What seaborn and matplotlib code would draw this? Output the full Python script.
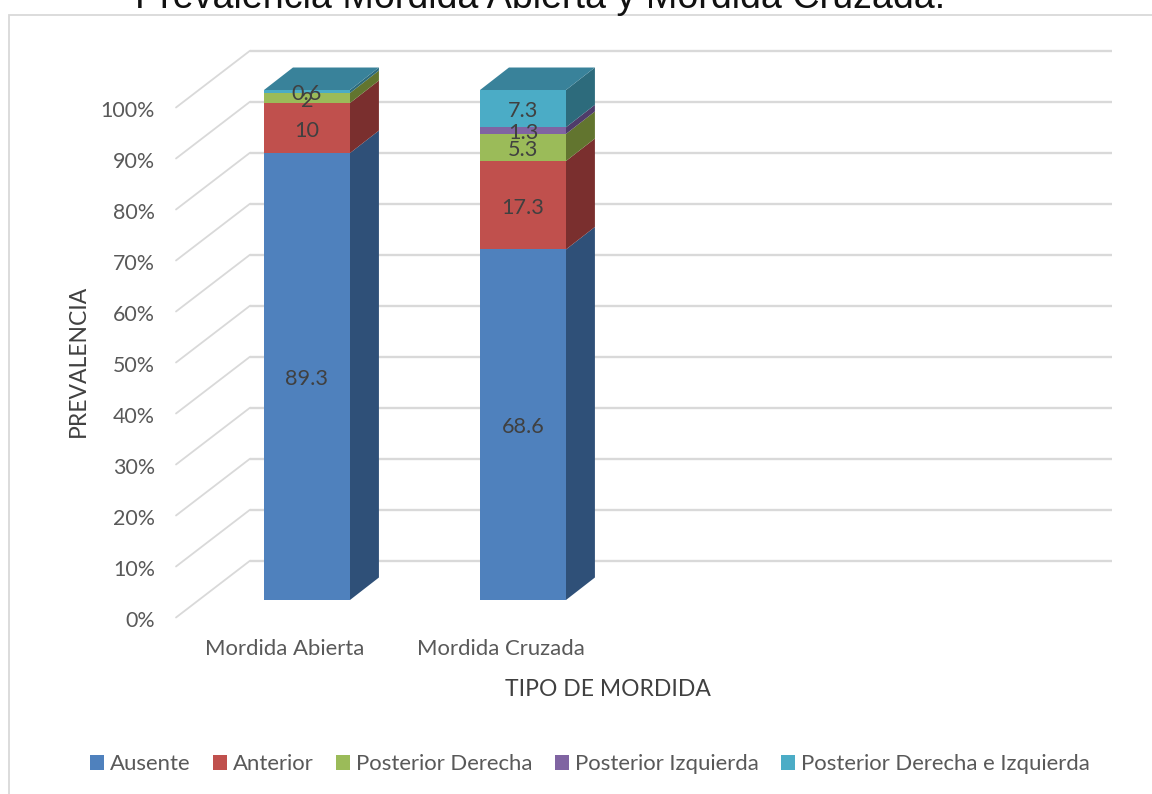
import matplotlib
matplotlib.use("Agg")
import matplotlib.pyplot as plt
from matplotlib.patches import Patch, Rectangle
import numpy as np
import pandas as pd
import seaborn as sns

categories = ["Mordida Abierta", "Mordida Cruzada"]
series_names = ["Ausente", "Anterior", "Posterior Derecha",
                "Posterior Izquierda", "Posterior Derecha e Izquierda"]
ausente = [89.3, 68.6]
anterior = [10, 17.3]
post_derecha = [2, 5.3]
post_izquierda = [0, 1.3]
post_ambas = [0.6, 7.3]

front_colors = ["#4f81bd", "#c0504d", "#9bbb59", "#8064a2", "#4bacc6"]
side_colors = ["#2f5078", "#7a2f2e", "#62752f", "#4f3c6a", "#2d6b7c"]
top_color = "#39829a"
grid_color = "#d9d9d9"
text_color = "#595959"
title_color = "#404040"

FONT = "Lato"
sns.set_theme(style="white")
plt.rcParams["font.family"] = [FONT, "DejaVu Sans"]

W, H = 1152, 794
fig = plt.figure(figsize=(W / 100, H / 100), dpi=100, facecolor="white")

# Plot plane of the bar fronts, extended below the front edge of the floor.
floor_y = -3.43
y_low = -5.0
ax_bottom_px = 625.5
ax = fig.add_axes([176 / W, (H - ax_bottom_px) / H, 936 / W, (ax_bottom_px - 90) / H])
ax.patch.set_alpha(0)

# Outer chart frame, running off the top-right corner of the figure.
fig.add_artist(Rectangle((8.5 / W, -0.01), 1.1, (H - 15) / H + 0.01,
                         transform=fig.transFigure, fill=False,
                         edgecolor=grid_color, linewidth=1.3))

values = np.array([ausente, anterior, post_derecha, post_izquierda, post_ambas], dtype=float)
shares = values / values.sum(axis=0) * 100
bottoms = np.vstack([np.zeros(2), np.cumsum(shares, axis=0)[:-1]])

bar_width = 0.398
depth_x, depth_y = 0.134, 4.41        # bar depth
wall_y = 7.7                          # bar plane to back wall
xmin, xmax = -0.6065, 3.727
wall_left = xmin + 74 / 216

# Back wall gridlines with their diagonals on the side wall.
for pct in np.arange(0, 101, 10):
    ax.plot([wall_left, xmax], [pct + wall_y, pct + wall_y], color=grid_color,
            lw=1.7, clip_on=False, zorder=1, solid_capstyle="butt")
    ax.plot([xmin, wall_left], [pct + floor_y, pct + wall_y], color=grid_color,
            lw=1.3, clip_on=False, zorder=1)

# Front faces, one stacked layer per series.
for i, name in enumerate(series_names):
    layer = pd.DataFrame({"pos": [0, 1], "share": shares[i], "base": bottoms[i]})
    sns.barplot(data=layer, x="pos", y="share", bottom=layer["base"].to_numpy(),
                native_scale=True, width=bar_width, color=front_colors[i], saturation=1,
                linewidth=0, ax=ax, zorder=3, clip_on=False, errorbar=None)
    container = ax.containers[-1]
    labels = [f"{v:g}" if v > 0 else "" for v in values[i]]
    texts = ax.bar_label(container, labels=labels, label_type="center", color=title_color,
                         fontsize=15.6, zorder=6)
    for t in texts:
        t.xyann = (0, -2)

    # Shaded right-hand side of each segment.
    for j in range(2):
        x_r = j + bar_width / 2
        y0, y1 = bottoms[i][j], bottoms[i][j] + shares[i][j]
        ax.fill([x_r, x_r + depth_x, x_r + depth_x, x_r],
                [y0, y0 + depth_y, y1 + depth_y, y1],
                color=side_colors[i], lw=0, zorder=2.5, clip_on=False)

# Top cap of each stack.
for j in range(2):
    x_l, x_r = j - bar_width / 2, j + bar_width / 2
    top = bottoms[-1][j] + shares[-1][j]
    ax.fill([x_l, x_r, x_r + depth_x, x_l + depth_x],
            [top, top, top + depth_y, top + depth_y],
            color=top_color, lw=0, zorder=2.6, clip_on=False)

ax.set_xlim(xmin, xmax)
ax.set_ylim(y_low, 100)
ax.set_xticks([])
ax.set_yticks([])
sns.despine(ax=ax, left=True, bottom=True)

# Tick labels sit on the front edge of the floor.
y_shift = 3.73
sec_y = ax.secondary_yaxis("left", functions=(lambda v: v + y_shift, lambda v: v - y_shift))
sec_y.set_yticks(np.arange(0, 101, 10))
sec_y.set_yticklabels([f"{p}%" for p in range(0, 101, 10)], color=text_color, fontsize=15.4)
sec_y.tick_params(length=0, pad=15)
sec_y.spines["left"].set_visible(False)

x_shift = 22.5 / 216
sec_x = ax.secondary_xaxis("bottom", functions=(lambda v: v + x_shift, lambda v: v - x_shift))
sec_x.set_xticks([0, 1])
sec_x.set_xticklabels(categories, color=text_color, fontsize=15.9)
sec_x.tick_params(length=0, pad=9.7)
sec_x.spines["bottom"].set_visible(False)

ax_h_px = ax_bottom_px - 90
ax.set_xlabel("TIPO DE MORDIDA", color=title_color, fontsize=16.5)
ax.xaxis.set_label_coords((608 - 176) / 936, (ax_bottom_px - 690) / ax_h_px)
ax.xaxis.label.set_verticalalignment("center")
ax.set_ylabel("PREVALENCIA", color=title_color, fontsize=16.5)
ax.yaxis.set_label_coords((78 - 176) / 936, (ax_bottom_px - 361) / ax_h_px)
ax.yaxis.label.set_verticalalignment("center")

fig.text(540.5 / W, (H - 7.5) / H, "Prevalencia Mordida Abierta y Mordida Cruzada.",
         family="Liberation Sans", fontsize=27.1, color="#111111",
         ha="center", va="baseline")

handles = [Patch(facecolor=c, edgecolor="none") for c in front_colors]
fig.legend(handles, series_names, loc="center", ncol=5, frameon=False,
           bbox_to_anchor=(590 / W, (H - 764) / H), fontsize=15.9, labelcolor=text_color,
           handlelength=0.64, handleheight=0.64, handletextpad=0.27, columnspacing=1.0)

fig.savefig("out.png", dpi=100)
